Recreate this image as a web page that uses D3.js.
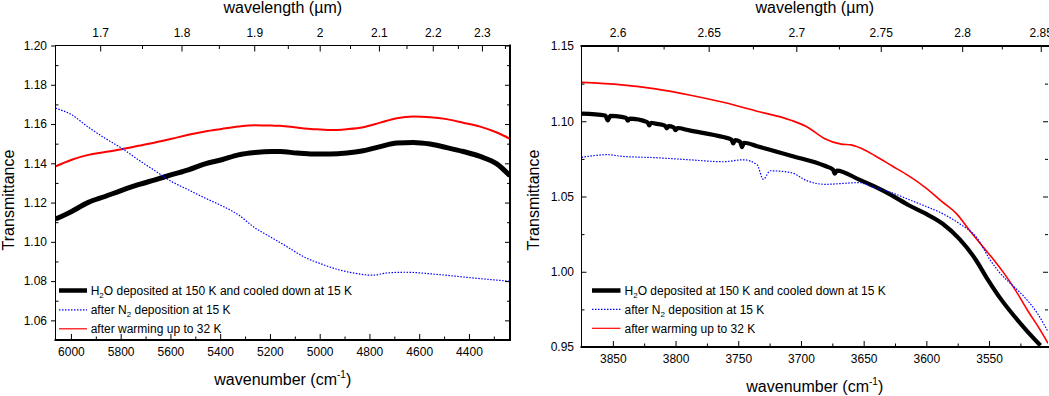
<!DOCTYPE html>
<html>
<head>
<meta charset="utf-8">
<script src="https://d3js.org/d3.v7.min.js"></script>
<style>
  body { margin: 0; background: #fff; }
  svg { display: block; font-family: "Liberation Sans", Arial, sans-serif; }
  .axis text { font-size: 12px; fill: #000; }
  .axis line { stroke: #000; stroke-width: 1; }
  .title { font-size: 16px; fill: #000; }
  .legend text { font-size: 12px; fill: #000; }
</style>
</head>
<body>
<div id="main"></div>
<script>
// ---- left panel (1.65 - 2.35 um) ----
var leftWn = [6062, 5997, 5930, 5863, 5796, 5729, 5662, 5595, 5528, 5461, 5394, 5327, 5260, 5193, 5159,
              5092, 5026, 4958, 4891, 4825, 4757, 4690, 4624, 4556, 4489, 4423, 4355, 4288, 4235];
var leftH2O = [1.1116, 1.1155, 1.1201, 1.1231, 1.1262, 1.1291, 1.1316, 1.1342, 1.1367, 1.1397, 1.1418, 1.1443, 1.1455, 1.1460, 1.1460,
               1.1452, 1.1447, 1.1447, 1.1452, 1.1464, 1.1485, 1.1503, 1.1506, 1.1498, 1.1480, 1.1460, 1.1435, 1.1397, 1.1336];
var leftWarm = [1.1384, 1.1418, 1.1443, 1.1457, 1.1472, 1.1489, 1.1506, 1.1525, 1.1545, 1.1562, 1.1575, 1.1587, 1.1594, 1.1592, 1.1591,
                1.1582, 1.1574, 1.1569, 1.1574, 1.1584, 1.1607, 1.1630, 1.1638, 1.1635, 1.1625, 1.1607, 1.1587, 1.1557, 1.1525];
var leftN2Wn = [6062, 5997, 5930, 5863, 5796, 5729, 5662, 5595, 5528, 5461, 5394, 5327, 5260, 5198, 5130,
                5063, 4995, 4927, 4859, 4791, 4723, 4655, 4519, 4384, 4235];
var leftN2 = [1.1681, 1.1647, 1.1584, 1.1528, 1.1477, 1.1418, 1.1362, 1.1307, 1.1265, 1.1223, 1.1184, 1.1138, 1.1071, 1.1025, 1.0974,
              1.0923, 1.0888, 1.0859, 1.0840, 1.0830, 1.0842, 1.0845, 1.0833, 1.0816, 1.0799];

// ---- right panel (2.58 - 2.85 um) ----
var rightH2OWn = [3875, 3856, 3854, 3852, 3843, 3839.5, 3838, 3836.5, 3822.5, 3821, 3819.5, 3816, 3808.5, 3807, 3805.5,
                  3801.5, 3800, 3798.5, 3789, 3762, 3755.5, 3754, 3752.5, 3748.5, 3747, 3745.5, 3735, 3708, 3681, 3674.5,
                  3673, 3671.5, 3654, 3641, 3627.5, 3614, 3600.5, 3587, 3573.5, 3561, 3551.5, 3541, 3530, 3519.5, 3509];
var rightH2O = [1.1051, 1.1038, 1.1006, 1.1036, 1.1029, 1.1022, 1.1004, 1.1018, 1.0994, 1.0972, 1.0990, 1.0984, 1.0971, 1.0953, 1.0967,
                1.0959, 1.0941, 1.0955, 1.0939, 1.0895, 1.0879, 1.0852, 1.0874, 1.0863, 1.0828, 1.0857, 1.0834, 1.0771, 1.0704, 1.0679,
                1.0652, 1.0672, 1.0614, 1.0565, 1.0507, 1.0442, 1.0386, 1.0319, 1.0217, 1.0085, 0.9955, 0.9823, 0.9706, 0.9604, 0.9510];
var rightN2Wn = [3875, 3854, 3843, 3816, 3789, 3762, 3746, 3735, 3730, 3724.5, 3708, 3695, 3681, 3654, 3641,
                 3627.5, 3614, 3600.5, 3587, 3573.5, 3560, 3549, 3541, 3531.5, 3522, 3511.5, 3503];
var rightN2 = [1.0760, 1.0778, 1.0767, 1.0758, 1.0744, 1.0731, 1.0744, 1.0711, 1.0614, 1.0671, 1.0659, 1.0604, 1.0581, 1.0592, 1.0558,
               1.0525, 1.0480, 1.0435, 1.0386, 1.0319, 1.0229, 1.0077, 0.9989, 0.9911, 0.9834, 0.9724, 0.9602];
var rightWarmWn = [3875, 3843, 3816, 3789, 3762, 3735, 3708, 3695, 3681, 3668, 3660, 3654, 3641,
                   3627.5, 3614, 3600.5, 3587, 3576, 3565.5, 3554.5, 3546, 3538, 3529, 3519.5, 3510, 3503];
var rightWarm = [1.1258, 1.1242, 1.1215, 1.1175, 1.1126, 1.1067, 1.1007, 1.0962, 1.0884, 1.0848, 1.0843, 1.0827, 1.0771,
                 1.0704, 1.0637, 1.0558, 1.0462, 1.0386, 1.0274, 1.0162, 1.0077, 0.9989, 0.9878, 0.9746, 0.9624, 0.9525];

// ticks
var leftWnTicks = [6000, 5800, 5600, 5400, 5200, 5000, 4800, 4600, 4400];
var leftTTicks = [1.06, 1.08, 1.10, 1.12, 1.14, 1.16, 1.18, 1.20];
var leftLamTicks = [1.7, 1.8, 1.9, 2, 2.1, 2.2, 2.3];
var rightWnTicks = [3850, 3800, 3750, 3700, 3650, 3600, 3550];
var rightTTicks = [0.95, 1.00, 1.05, 1.10, 1.15];
var rightLamTicks = [2.6, 2.65, 2.7, 2.75, 2.8, 2.85];

// legend ("|" wraps a subscript)
var legendLabels = ["H|2|O deposited at 150 K and cooled down at 15 K",
                    "after N|2| deposition at 15 K",
                    "after warming up to 32 K"];

var width = 1049,
    height = 396;

var colors = ["#000000", "#0000ff", "#ff0000"];
var dashes = [null, "1.5,1.5", null];
var legendWidths = [4.5, 1.2, 1.2];

var panels = [
  {
    xDomain: [6062, 4235], left: 55.5, right: 510,
    yDomain: [1.05, 1.20], top: 45.5, bottom: 340,
    wnTicks: leftWnTicks, tTicks: leftTTicks, lamTicks: leftLamTicks,
    leftOut: true, spines: [1, 1, 2, 2], // top, left, right, bottom
    series: [
      { wn: leftWn, t: leftH2O, s: 0, w: 5 },
      { wn: leftWn, t: leftWarm, s: 2, w: 2 },
      { wn: leftN2Wn, t: leftN2, s: 1, w: 1.2 }
    ],
    ytitleX: 13.5, legend: { x0: 59, x1: 87, tx: 90.7, ys: [290.5, 309.8, 328.8] }
  },
  {
    xDomain: [3875, 3503], left: 581.5, right: 1048,
    yDomain: [0.95, 1.15], top: 46, bottom: 347,
    wnTicks: rightWnTicks, tTicks: rightTTicks, lamTicks: rightLamTicks,
    leftOut: false, spines: [2, 1, 0, 2],
    series: [
      { wn: rightH2OWn, t: rightH2O, s: 0, w: 4.2 },
      { wn: rightWarmWn, t: rightWarm, s: 2, w: 1.6 },
      { wn: rightN2Wn, t: rightN2, s: 1, w: 1.2 }
    ],
    ytitleX: 538.5, legend: { x0: 592, x1: 620.5, tx: 624.5, ys: [290.5, 309.3, 328.3] }
  }
];

var svg = d3.select("#main").append("svg")
    .attr("width", width)
    .attr("height", height);

var defs = svg.append("defs");

panels.forEach(drawPanel);

// half-step ticks between the labelled ones, kept inside the frame
function minorTicks(major, scale, toPx) {
  var step = major[1] - major[0];
  var vals = major.map(function(m) { return m - step / 2; });
  vals.push(major[major.length - 1] + step / 2);
  var r = scale.range();
  return vals.filter(function(v) {
    var p = scale(toPx ? toPx(v) : v);
    return p > Math.min(r[0], r[1]) + 1 && p < Math.max(r[0], r[1]) - 1;
  });
}

function drawPanel(p, k) {
  var x = d3.scaleLinear().domain(p.xDomain).range([p.left, p.right]);
  var y = d3.scaleLinear().domain(p.yDomain).range([p.bottom, p.top]);
  var g = svg.append("g");

  defs.append("clipPath").attr("id", "clip" + k)
    .append("rect")
      .attr("x", p.left)
      .attr("y", p.top)
      .attr("width", p.right - p.left)
      .attr("height", p.bottom - p.top);

  var line = d3.line()
    .curve(d3.curveMonotoneX)
    .x(function(d) { return x(d[0]); })
    .y(function(d) { return y(d[1]); });

  p.series.forEach(function(s) {
    g.append("path")
      .datum(d3.zip(s.wn, s.t))
      .attr("clip-path", "url(#clip" + k + ")")
      .attr("fill", "none")
      .attr("stroke", colors[s.s])
      .attr("stroke-width", s.w)
      .attr("stroke-linejoin", "round")
      .attr("stroke-dasharray", dashes[s.s])
      .attr("d", line);
  });

  var lamToWn = function(l) { return 1e4 / l; };

  // bottom: wavenumber
  g.append("g").attr("class", "axis")
    .attr("transform", "translate(0," + p.bottom + ")")
    .call(d3.axisBottom(x).tickValues(p.wnTicks).tickSize(-6).tickPadding(7.5).tickFormat(d3.format("d")))
    .call(function(a) { a.select(".domain").remove(); });
  g.append("g").attr("class", "axis")
    .attr("transform", "translate(0," + p.bottom + ")")
    .call(d3.axisBottom(x).tickValues(minorTicks(p.wnTicks, x)).tickSize(-3.5).tickFormat(""))
    .call(function(a) { a.select(".domain").remove(); });

  // top: wavelength
  g.append("g").attr("class", "axis")
    .attr("transform", "translate(0," + p.top + ")")
    .call(d3.axisTop(x).tickValues(p.lamTicks.map(lamToWn)).tickSize(-6).tickPadding(9)
      .tickFormat(function(d, i) { return String(p.lamTicks[i]); }))
    .call(function(a) { a.select(".domain").remove(); });
  g.append("g").attr("class", "axis")
    .attr("transform", "translate(0," + p.top + ")")
    .call(d3.axisTop(x).tickValues(minorTicks(p.lamTicks, x, lamToWn).map(lamToWn)).tickSize(-3.5).tickFormat(""))
    .call(function(a) { a.select(".domain").remove(); });

  // left: transmittance
  g.append("g").attr("class", "axis")
    .attr("transform", "translate(" + p.left + ",0)")
    .call(d3.axisLeft(y).tickValues(p.tTicks).tickSize(p.leftOut ? 4.5 : -5).tickPadding(p.leftOut ? 4 : 7.5)
      .tickFormat(d3.format(".2f")))
    .call(function(a) { a.select(".domain").remove(); });
  g.append("g").attr("class", "axis")
    .attr("transform", "translate(" + p.left + ",0)")
    .call(d3.axisLeft(y).tickValues(minorTicks(p.tTicks, y)).tickSize(-3).tickFormat(""))
    .call(function(a) { a.select(".domain").remove(); });

  // right: ticks only
  g.append("g").attr("class", "axis")
    .attr("transform", "translate(" + p.right + ",0)")
    .call(d3.axisRight(y).tickValues(p.tTicks).tickSize(-5).tickFormat(""))
    .call(function(a) { a.select(".domain").remove(); });
  g.append("g").attr("class", "axis")
    .attr("transform", "translate(" + p.right + ",0)")
    .call(d3.axisRight(y).tickValues(minorTicks(p.tTicks, y)).tickSize(-3).tickFormat(""))
    .call(function(a) { a.select(".domain").remove(); });

  // frame
  var sp = [
    [p.left, p.top, p.right, p.top],
    [p.left, p.top, p.left, p.bottom],
    [p.right, p.top, p.right, p.bottom],
    [p.left, p.bottom, p.right, p.bottom]
  ];
  sp.forEach(function(s, i) {
    if (!p.spines[i]) return;
    g.append("line")
      .attr("x1", s[0]).attr("y1", s[1])
      .attr("x2", s[2]).attr("y2", s[3])
      .attr("stroke", "#000")
      .attr("stroke-width", p.spines[i])
      .attr("stroke-linecap", "square");
  });

  var cx = (p.left + p.right) / 2;

  g.append("text").attr("class", "title")
    .attr("x", cx).attr("y", 13)
    .attr("text-anchor", "middle")
    .text("wavelength (\u00b5m)");

  var xt = g.append("text").attr("class", "title")
    .attr("x", cx).attr("y", p.bottom + 45)
    .attr("text-anchor", "middle");
  xt.append("tspan").text("wavenumber (cm");
  xt.append("tspan").attr("dy", -7).style("font-size", "10px").text("-1");
  xt.append("tspan").attr("dy", 7).text(")");

  g.append("text").attr("class", "title")
    .attr("transform", "translate(" + p.ytitleX + ",200) rotate(-90)")
    .attr("text-anchor", "middle")
    .text("Transmittance");

  // legend
  var lg = g.append("g").attr("class", "legend");
  legendLabels.forEach(function(lab, i) {
    var ly = p.legend.ys[i];
    lg.append("line")
      .attr("x1", p.legend.x0).attr("x2", p.legend.x1)
      .attr("y1", ly).attr("y2", ly)
      .attr("stroke", colors[i])
      .attr("stroke-width", legendWidths[i])
      .attr("stroke-dasharray", dashes[i]);
    var t = lg.append("text").attr("x", p.legend.tx).attr("y", ly + 4.3);
    lab.split("|").forEach(function(part, j) {
      var ts = t.append("tspan").text(part);
      if (j % 2 === 1) ts.attr("dy", 3).style("font-size", "8px");
      else if (j > 0) ts.attr("dy", -3);
    });
  });
}
</script>
</body>
</html>
